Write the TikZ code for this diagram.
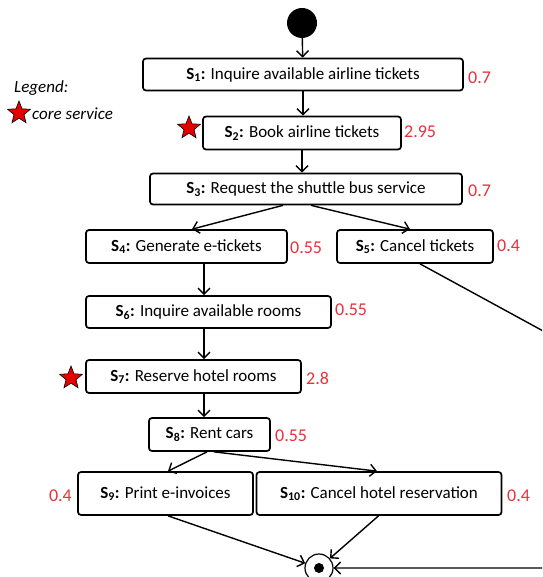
\documentclass[tikz,border=0pt]{standalone}
\usepackage{fontspec}
\setmainfont{Carlito}
\usetikzlibrary{arrows.meta,shapes.geometric,calc}
\definecolor{numred}{HTML}{E8303A}
\begin{document}
\begin{tikzpicture}[x=1pt,y=-1pt,
  svc/.style={draw, line width=1.7pt, rounded corners=3pt, minimum height=33pt, inner sep=0pt, font=\fontsize{17}{19}\selectfont},
  num/.style={text=numred, inner sep=0pt, font=\fontsize{18}{20}\selectfont},
  arr/.style={line width=1.4pt, -{Straight Barb[length=6pt,width=12pt,line width=1.4pt]}},
  corestar/.style={star, star points=5, star point ratio=2.3, fill=red!90!black, draw=black, line width=0.6pt, minimum size=24pt, inner sep=0pt},
  leg/.style={inner sep=0pt, font=\fontsize{17}{19}\selectfont\itshape}
]
\useasboundingbox (0,0) rectangle (542,577);
\clip (0,0) rectangle (542,577);

% start and end
\node[circle, fill=black, minimum size=30pt, inner sep=0pt] (start) at (302,23) {};
\node[circle, draw, line width=1.2pt, minimum size=28pt, inner sep=0pt] (final) at (319,568) {};
\node[circle, fill=black, minimum size=10pt, inner sep=0pt] (finaldot) at (319,568) {};

% services
\node[svc, minimum width=320pt, minimum height=32pt] (s1) at (303,74.5) {\textbf{S\textsubscript{1}:} Inquire available airline tickets};
\node[svc, minimum width=198pt] (s2) at (302,133) {\textbf{S\textsubscript{2}:} Book airline tickets};
\node[svc, minimum width=312pt, minimum height=31pt] (s3) at (306,189) {\textbf{S\textsubscript{3}:} Request the shuttle bus service};
\node[svc, minimum width=201pt] (s4) at (186.5,246.5) {\textbf{S\textsubscript{4}:} Generate e-tickets};
\node[svc, minimum width=156pt] (s5) at (415,246.5) {\textbf{S\textsubscript{5}:} Cancel tickets};
\node[svc, minimum width=245pt, minimum height=32pt] (s6) at (208.5,312) {\textbf{S\textsubscript{6}:} Inquire available rooms};
\node[svc, minimum width=215pt] (s7) at (193.5,376.5) {\textbf{S\textsubscript{7}:} Reserve hotel rooms};
\node[svc, minimum width=121pt] (s8) at (209.5,434.5) {\textbf{S\textsubscript{8}:} Rent cars};
\node[svc, minimum width=175pt, minimum height=43pt] (s9) at (165.5,493.5) {\textbf{S\textsubscript{9}:} Print e-invoices};
\node[svc, minimum width=245pt, minimum height=43pt] (s10) at (379,493.5) {\textbf{S\textsubscript{10}:} Cancel hotel reservation};

% numbers
\node[num, anchor=west] (n1) at (468,78) {0.7};
\node[num, anchor=west] (n2) at (404,132) {2.95};
\node[num, anchor=west] (n3) at (468,191) {0.7};
\node[num, anchor=west] (n4) at (290,248) {0.55};
\node[num, anchor=west] (n5) at (497,246) {0.4};
\node[num, anchor=west] (n6) at (335,310) {0.55};
\node[num, anchor=west] (n7) at (306,378) {2.8};
\node[num, anchor=west] (n8) at (275,436) {0.55};
\node[num, anchor=east] (n9) at (72,496) {0.4};
\node[num, anchor=west] (n10) at (507,496) {0.4};

% stars
\node[corestar] (st2) at (189,128) {};
\node[corestar] (st7) at (71,378) {};

% legend
\node[leg, anchor=west] (legtitle) at (14,88) {Legend:};
\node[corestar] (legstar) at (19,113) {};
\node[leg, anchor=west] (legtext) at (32,114) {core service};

% connectors
\draw[arr] (start) -- (s1);
\draw[arr] (s1) -- (s2.north -| s1);
\draw[arr] (s2) -- (s3.north -| s2);
\draw[arr] ($(s3.south)+(-23,0)$) -- ($(s4.north)+(5.5,0)$);
\draw[arr] ($(s3.south)+(5,0)$) -- ($(s5.north)+(-5,0)$);
\draw[arr] ($(s4.south)+(17.5,0)$) -- ($(s6.north)+(-4.5,0)$);
\draw[arr] ($(s6.south)+(-4.5,0)$) -- ($(s7.north)+(10.5,0)$);
\draw[arr] ($(s7.south)+(10.5,0)$) -- ($(s8.north)+(-5.5,0)$);
\draw[arr] ($(s8.south)+(-2.5,0)$) -- ($(s9.north)+(2.5,0)$);
\draw[arr] ($(s8.south)+(4.5,0)$) -- ($(s10.north)+(-2,0)$);
\draw[arr] ($(s9.south)+(2.5,0)$) -- (final);
\draw[arr] ($(s10.south)+(-0.5,0)$) -- (final);
\coordinate (cR) at (600,362);
\draw[arr] ($(s5.south)+(5,0)$) -- (cR) |- (final);
\end{tikzpicture}
\end{document}
